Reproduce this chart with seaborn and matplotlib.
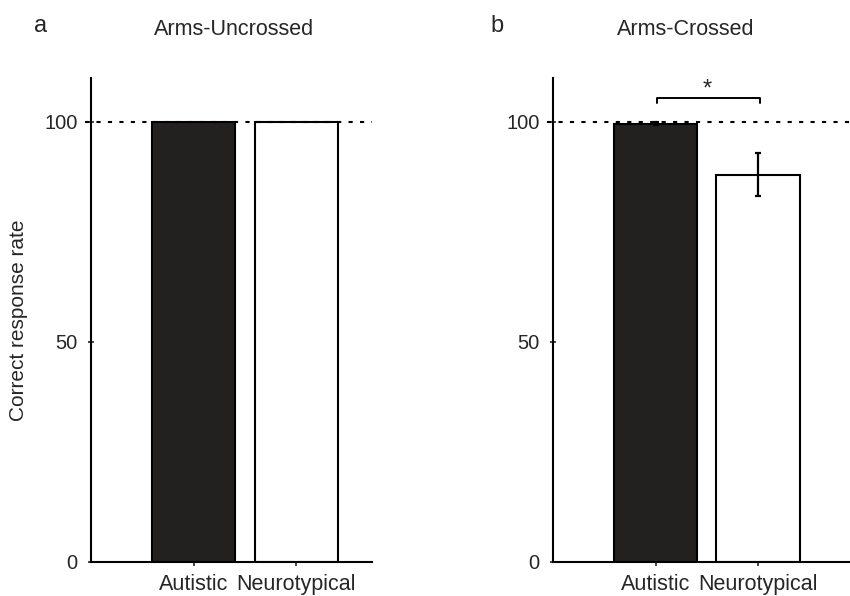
import numpy as np
import pandas as pd
import matplotlib
matplotlib.use("Agg")
import matplotlib.pyplot as plt
import seaborn as sns

groups = ["Autistic", "Neurotypical"]
uncrossed_rate = [100.0, 100.0]
uncrossed_err = [0.0, 0.0]
crossed_rate = [99.6, 88.0]
crossed_err = [0.4, 4.9]
bar_colors = ["#231f20", "#ffffff"]

sns.set_style("ticks")
plt.rcParams["font.family"] = ["Liberation Sans", "DejaVu Sans"]

fig = plt.figure(figsize=(8.5, 5.96), dpi=100)
ax_a = fig.add_axes([0.1071, 0.0575, 0.3304, 0.812])
ax_b = fig.add_axes([0.6506, 0.0575, 0.3497, 0.812])

panels = [
    (ax_a, uncrossed_rate, uncrossed_err, (-1.0, 1.74)),
    (ax_b, crossed_rate, crossed_err, (-1.0, 1.9)),
]

for ax, rate, err, xlim in panels:
    df = pd.DataFrame({"group": groups, "rate": rate})
    sns.barplot(data=df, x="group", y="rate", hue="group", palette=bar_colors,
                edgecolor="black", linewidth=1.5, width=0.81, legend=False, ax=ax,
                errorbar=None)
    if any(e > 0 for e in err):
        ax.errorbar(range(len(groups)), rate, yerr=err, fmt="none", ecolor="black",
                    elinewidth=1.6, capsize=2.2, capthick=1.6, zorder=5)
    # ceiling line at 100 %
    ax.plot([xlim[0] - 0.06, xlim[1]], [100, 100], color="black",
            linestyle=(0, (2, 3.5)), linewidth=1.5, zorder=6, clip_on=False)
    ax.set_xlim(*xlim)
    ax.set_ylim(0, 110)
    ax.set_yticks([0, 50, 100])
    ax.tick_params(axis="y", labelsize=14.5, length=5, width=1.2, direction="inout", pad=7)
    ax.tick_params(axis="x", labelsize=15.5, length=3, width=1.2, direction="out", pad=6)
    ax.set_xlabel("")
    ax.set_ylabel("")
    for s in ["top", "right"]:
        ax.spines[s].set_visible(False)
    for s in ["left", "bottom"]:
        ax.spines[s].set_linewidth(1.5)
        ax.spines[s].set_color("black")

ax_a.set_ylabel("Correct response rate", fontsize=15)
ax_a.yaxis.set_label_coords(-0.224, 0.5)

fig.text(41 / 850, 1 - 32 / 596, "a", fontsize=17, ha="center", va="baseline")
fig.text(234 / 850, 1 - 35 / 596, "Arms-Uncrossed", fontsize=15.5, ha="center", va="baseline")
fig.text(497 / 850, 1 - 32 / 596, "b", fontsize=17, ha="center", va="baseline")
fig.text(686 / 850, 1 - 35 / 596, "Arms-Crossed", fontsize=15.5, ha="center", va="baseline")

# significance bracket between the two groups
ax_b.plot([0.01, 0.01, 1.02, 1.02], [104.2, 105.5, 105.5, 104.2], color="black",
          linewidth=1.4, clip_on=False)
ax_b.text(0.5, 107.4, "*", ha="center", va="center", fontsize=17)

fig.savefig("out.png", dpi=100)
